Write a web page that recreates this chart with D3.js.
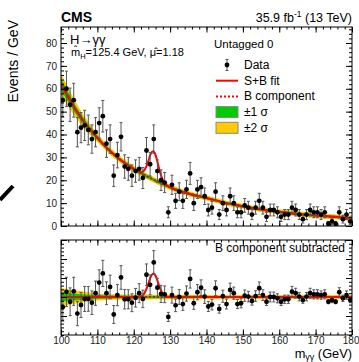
<!DOCTYPE html>
<html><head><meta charset="utf-8">
<script src="https://cdn.jsdelivr.net/npm/d3@7"></script>
<style>
body{margin:0;background:#fff}
svg{display:block}
text{font-family:"Liberation Sans",Arial,Helvetica,sans-serif}
</style>
</head><body>
<svg id="c" width="359" height="362"></svg>
<script>
// ---------------- data ----------------
const massBins = [100.5,101.5,102.5,103.5,104.5,105.5,106.5,107.5,108.5,109.5,
  110.5,111.5,112.5,113.5,114.5,115.5,116.5,117.5,118.5,119.5,
  120.5,121.5,122.5,123.5,124.5,125.5,126.5,127.5,128.5,129.5,
  130.5,131.5,132.5,133.5,134.5,135.5,136.5,137.5,138.5,139.5,
  140.5,141.5,142.5,143.5,144.5,145.5,146.5,147.5,148.5,149.5,
  150.5,151.5,152.5,153.5,154.5,155.5,156.5,157.5,158.5,159.5,
  160.5,161.5,162.5,163.5,164.5,165.5,166.5,167.5,168.5,169.5,
  170.5,171.5,172.5,173.5,174.5,175.5,176.5,177.5,178.5,179.5];

const dataCounts = [55,60,53,55,41,43,44,42,38,41,
  45,48,36,38,22,31,39,26,25,22,
  24,25,21,33,27,38,24,20,19,6,
  18,11,15,11,16,23,10,16,17,13,
  7,8,15,5,10,7,13,10,6,6,
  9,8,5,8,11,8,4,7,7,6,
  4,5,5,8,7,5,3,5,7,6,
  6,5,6,1,2,1,6,3,5,2];

const dataErrors = [7.4,7.7,7.3,7.4,6.4,6.6,6.6,6.5,6.2,6.4,
  6.7,6.9,6.0,6.2,4.7,5.6,6.2,5.1,5.0,4.7,
  4.9,5.0,4.6,5.7,5.2,6.2,4.9,4.5,4.4,2.4,
  4.2,3.3,3.9,3.3,4.0,4.8,3.2,4.0,4.1,3.6,
  2.6,2.8,3.9,2.2,3.2,2.6,3.6,3.2,2.4,2.4,
  3.0,2.8,2.2,2.8,3.3,2.8,2.0,2.6,2.6,2.4,
  2.0,2.2,2.2,2.8,2.6,2.2,1.7,2.2,2.6,2.4,
  2.4,2.2,2.4,1.0,1.4,1.0,2.4,1.7,2.2,1.4];

const subtracted = [-5.3,2.7,-2.5,3,-8.7,-4.2,-1,-1,-3,2,
  7.6,12.4,2,5.3,-9.2,1,10.3,-1.2,-1.2,-3,
  -0.4,2,-1,11.7,6.4,18.2,4.9,1.6,1.4,-10.5,
  1,-4.4,0,-3.7,1.8,9.5,-3.3,2.5,4.9,0.2,
  -5,-4,4.6,-6.3,0.4,-3.7,3.7,2,-3.7,-3.3,
  0.7,0.2,-2.1,0.5,4.6,1,-2.5,0,0,-0.7,
  -2.5,-1.2,-1.2,2.8,2,0.2,-1.6,0.2,2,1.4,
  1.4,1,1.4,-2.5,-1.6,-2.5,2.5,-0.7,1,-1.6];

// background fit (B component) sampled along the curve
const bkgMass  = [100,105,110,115,120,125,130,135,140,145,150,155,160,165,170,175,180];
const bkgValue = [62,48.5,38.5,30.6,25,20.6,16.9,14.2,12.2,10.2,8.6,7.2,6.2,5.3,4.6,4.0,3.4];

// uncertainty band half widths
const bandMass = [100,105,110,115,120,125,130,135,140,145,150,155,160,165,170,175,180];
const band1 = [2.5,1.6,1.0,0.8,0.7,0.65,0.6,0.6,0.55,0.55,0.55,0.55,0.55,0.55,0.55,0.55,0.6];
const band2 = [4.8,3.1,1.9,1.5,1.35,1.25,1.2,1.15,1.1,1.1,1.1,1.1,1.1,1.1,1.1,1.1,1.2];

// signal component (S+B minus B)
const sigMass  = [100,120,121,122,122.5,123,123.5,124,124.5,125,125.4,125.8,126.3,126.8,127.3,127.8,128.3,129,130,180];
const sigValue = [0,0,0.05,0.4,1.0,2.3,4.3,6.9,9.8,11.8,12.4,11.8,9.8,6.9,4.3,2.3,1.0,0.3,0,0];

const xTicks = [100,110,120,130,140,150,160,170,180];
const xTickLabels = ["100","110","120","130","140","150","160","170","180"];
const yTicksTop = [0,10,20,30,40,50,60,70,80];
const yTickLabelsTop = ["0","10","20","30","40","50","60","70","80"];
const yTicksBot = [-10,0,10,20,30];
const yTickLabelsBot = ["\u221210","0","10","20","30"];

// ---------------- layout ----------------
const W = 359, H = 362;
const L = 61, R = 352, T1 = 27, B1 = 226, T2 = 240, B2 = 335;
const RED = "#ff0000", GREEN = "#00cc00", YELLOW = "#ffcc00";
const FONT = "'Liberation Sans',Arial,Helvetica,sans-serif";

const svg = d3.select("#c");
svg.append("rect").attr("width", W).attr("height", H).attr("fill", "#fff");

const x  = d3.scaleLinear().domain([100, 180]).range([L, R]);
const y1 = d3.scaleLinear().domain([0, 87]).range([B1, T1]);
const y2 = d3.scaleLinear().domain([-20, 30]).range([B2, T2]);

const bkgAt = d3.scaleLinear().domain(bkgMass).range(bkgValue);
const sigAt = d3.scaleLinear().domain(sigMass).range(sigValue);

const defs = svg.append("defs");
defs.append("clipPath").attr("id", "cTop").append("rect")
  .attr("x", L).attr("y", T1).attr("width", R - L).attr("height", B1 - T1);
defs.append("clipPath").attr("id", "cBot").append("rect")
  .attr("x", L).attr("y", T2).attr("width", R - L).attr("height", B2 - T2);
defs.append("clipPath").attr("id", "cBotLab").append("rect")
  .attr("x", 0).attr("y", T2 - 1).attr("width", L).attr("height", H);

const bandPts = bandMass.map((m, i) => ({ m, b: bkgValue[i], s1: band1[i], s2: band2[i] }));
const bkgPts = bkgMass.map((m, i) => ({ m, v: bkgValue[i] }));
const sbMass = Array.from(new Set(bkgMass.concat(sigMass))).sort((a, b) => a - b);
const sbPts = sbMass.map(m => ({ m, v: bkgAt(m) + sigAt(m) }));
const sigPts = sigMass.map((m, i) => ({ m, v: sigValue[i] }));
const pts = massBins.map((m, i) => ({ m, v: dataCounts[i], e: dataErrors[i], r: subtracted[i] }));

// ---------------- top panel ----------------
const gTop = svg.append("g").attr("clip-path", "url(#cTop)");
const areaTop = k => d3.area().curve(d3.curveMonotoneX)
  .x(d => x(d.m)).y0(d => y1(d.b - d[k])).y1(d => y1(d.b + d[k]));
gTop.append("path").datum(bandPts).attr("d", areaTop("s2")).attr("fill", YELLOW);
gTop.append("path").datum(bandPts).attr("d", areaTop("s1")).attr("fill", GREEN);
const lineTop = d3.line().curve(d3.curveMonotoneX).x(d => x(d.m)).y(d => y1(d.v));
gTop.append("path").datum(bkgPts).attr("d", lineTop).attr("fill", "none")
  .attr("stroke", RED).attr("stroke-width", 2).attr("stroke-dasharray", "2,2");
gTop.append("path").datum(sbPts).attr("d", lineTop).attr("fill", "none")
  .attr("stroke", RED).attr("stroke-width", 2);

function drawPoints(g, ys, key) {
  const gp = g.append("g");
  gp.selectAll("line.eb").data(pts).join("line").attr("class", "eb")
    .attr("x1", d => x(d.m)).attr("x2", d => x(d.m))
    .attr("y1", d => ys(d[key] - d.e)).attr("y2", d => ys(d[key] + d.e))
    .attr("stroke", "#555").attr("stroke-width", 1);
  gp.selectAll("line.cl").data(pts).join("line").attr("class", "cl")
    .attr("x1", d => x(d.m) - 1.5).attr("x2", d => x(d.m) + 1.5)
    .attr("y1", d => ys(d[key] - d.e)).attr("y2", d => ys(d[key] - d.e))
    .attr("stroke", "#555").attr("stroke-width", 1);
  gp.selectAll("line.ch").data(pts).join("line").attr("class", "ch")
    .attr("x1", d => x(d.m) - 1.5).attr("x2", d => x(d.m) + 1.5)
    .attr("y1", d => ys(d[key] + d.e)).attr("y2", d => ys(d[key] + d.e))
    .attr("stroke", "#555").attr("stroke-width", 1);
  gp.selectAll("circle").data(pts).join("circle")
    .attr("cx", d => x(d.m)).attr("cy", d => ys(d[key])).attr("r", 2.4).attr("fill", "#000");
}
drawPoints(gTop, y1, "v");

// ---------------- bottom panel ----------------
const gBot = svg.append("g").attr("clip-path", "url(#cBot)");
const areaBot = k => d3.area().curve(d3.curveMonotoneX)
  .x(d => x(d.m)).y0(d => y2(-d[k])).y1(d => y2(d[k]));
gBot.append("path").datum(bandPts).attr("d", areaBot("s2")).attr("fill", YELLOW);
gBot.append("path").datum(bandPts).attr("d", areaBot("s1")).attr("fill", GREEN);
gBot.append("line").attr("x1", x(100)).attr("x2", x(180)).attr("y1", y2(0)).attr("y2", y2(0))
  .attr("stroke", RED).attr("stroke-width", 2).attr("stroke-dasharray", "2,2");
gBot.append("path").datum(sigPts)
  .attr("d", d3.line().curve(d3.curveMonotoneX).x(d => x(d.m)).y(d => y2(d.v)))
  .attr("fill", "none").attr("stroke", RED).attr("stroke-width", 2);
drawPoints(gBot, y2, "r");

// ---------------- axes ----------------
function styleAxis(g) {
  g.select(".domain").remove();
  g.selectAll("line").attr("stroke", "#000");
  g.selectAll("text").attr("font-family", FONT).attr("font-size", 10).attr("fill", "#222");
}
const range = (a, b, s) => { const r = []; for (let v = a; v <= b + 1e-9; v += s) r.push(+v.toFixed(3)); return r; };
const xMinor = range(100, 180, 2);
const yMinorTop = range(0, 86, 2);
const yMinorBot = range(-20, 30, 2);

function panelAxes(ys, top, bottom, yMajor, yLabels, yMinor, showX, labelClip) {
  svg.append("g").attr("transform", `translate(0,${bottom})`)
    .call(d3.axisBottom(x).tickValues(xMinor).tickSize(-2.5).tickFormat("")).call(styleAxis);
  const xb = svg.append("g").attr("transform", `translate(0,${bottom})`)
    .call(d3.axisBottom(x).tickValues(xTicks).tickSize(-5.5).tickPadding(1.5)
      .tickFormat((d, i) => showX ? xTickLabels[i] : "")).call(styleAxis);
  if (showX) {
    xb.selectAll(".tick").filter(d => d === 180).select("text").attr("text-anchor", "end").attr("dx", 7);
  }
  svg.append("g").attr("transform", `translate(0,${top})`)
    .call(d3.axisTop(x).tickValues(xMinor).tickSize(-2.5).tickFormat("")).call(styleAxis);
  svg.append("g").attr("transform", `translate(0,${top})`)
    .call(d3.axisTop(x).tickValues(xTicks).tickSize(-5.5).tickFormat("")).call(styleAxis);
  svg.append("g").attr("transform", `translate(${L},0)`)
    .call(d3.axisLeft(ys).tickValues(yMinor).tickSize(-3).tickFormat("")).call(styleAxis);
  const ya = svg.append("g").attr("transform", `translate(${L},0)`)
    .call(d3.axisLeft(ys).tickValues(yMajor).tickSize(-6).tickPadding(4)
      .tickFormat((d, i) => yLabels[i])).call(styleAxis);
  if (labelClip) ya.attr("clip-path", labelClip);
  svg.append("g").attr("transform", `translate(${R},0)`)
    .call(d3.axisRight(ys).tickValues(yMinor).tickSize(-3).tickFormat("")).call(styleAxis);
  svg.append("g").attr("transform", `translate(${R},0)`)
    .call(d3.axisRight(ys).tickValues(yMajor).tickSize(-6).tickFormat("")).call(styleAxis);
  svg.append("rect").attr("x", L).attr("y", top).attr("width", R - L).attr("height", bottom - top)
    .attr("fill", "none").attr("stroke", "#000").attr("stroke-width", 1);
}
panelAxes(y1, T1, B1, yTicksTop, yTickLabelsTop, yMinorTop, false, null);
panelAxes(y2, T2, B2, yTicksBot, yTickLabelsBot, yMinorBot, true, "url(#cBotLab)");

// ---------------- texts ----------------
const txt = (xx, yy, s, size, opts = {}) => {
  const t = svg.append("text").attr("x", xx).attr("y", yy).attr("font-family", FONT)
    .attr("font-size", size).attr("fill", opts.fill || "#000");
  if (opts.anchor) t.attr("text-anchor", opts.anchor);
  if (opts.weight) t.attr("font-weight", opts.weight);
  if (s !== null) t.text(s);
  return t;
};

txt(61, 22, "CMS", 14, { weight: "bold" });
const lumi = txt(352, 22, null, 12.5, { anchor: "end" });
lumi.append("tspan").text("35.9 fb");
lumi.append("tspan").attr("font-size", 8.5).attr("dy", -5).text("-1");
lumi.append("tspan").attr("dy", 5).text(" (13 TeV)");

svg.append("text").attr("transform", "translate(18,20) rotate(-90)")
  .attr("text-anchor", "end").attr("font-family", FONT).attr("font-size", 14).attr("fill", "#000")
  .text("Events / GeV");

const xt = txt(352, 357.5, null, 12.8, { anchor: "end" });
xt.append("tspan").text("m");
xt.append("tspan").attr("font-size", 9).attr("dy", 2).text("\u03b3\u03b3");
xt.append("tspan").attr("dy", -2).text(" (GeV)");

txt(70, 44, "H\u2192\u03b3\u03b3", 13);
const fitLab = txt(71, 56, null, 11);
fitLab.append("tspan").text("m\u0302");
fitLab.append("tspan").attr("font-size", 7.5).attr("dy", 2.5).text("H");
fitLab.append("tspan").attr("dy", -2.5).text("=125.4 GeV, \u03bc\u0302=1.18");

txt(214, 48, "Untagged 0", 11.5);
const lx0 = 216, lx1 = 238, ltx = 244;
const rows = [65, 80.7, 96.4, 112.1, 127.8];
svg.append("line").attr("x1", 227).attr("x2", 227).attr("y1", rows[0] - 5.5).attr("y2", rows[0] + 5.5)
  .attr("stroke", "#555");
svg.append("line").attr("x1", 225.5).attr("x2", 228.5).attr("y1", rows[0] - 5.5).attr("y2", rows[0] - 5.5).attr("stroke", "#555");
svg.append("line").attr("x1", 225.5).attr("x2", 228.5).attr("y1", rows[0] + 5.5).attr("y2", rows[0] + 5.5).attr("stroke", "#555");
svg.append("circle").attr("cx", 227).attr("cy", rows[0]).attr("r", 2.4).attr("fill", "#000");
txt(ltx, rows[0] + 4, "Data", 12);
svg.append("line").attr("x1", lx0).attr("x2", lx1).attr("y1", rows[1]).attr("y2", rows[1])
  .attr("stroke", RED).attr("stroke-width", 2);
txt(ltx, rows[1] + 4, "S+B fit", 12);
svg.append("line").attr("x1", lx0).attr("x2", lx1).attr("y1", rows[2]).attr("y2", rows[2])
  .attr("stroke", RED).attr("stroke-width", 2).attr("stroke-dasharray", "2,2");
txt(ltx, rows[2] + 4, "B component", 12);
svg.append("rect").attr("x", lx0).attr("y", rows[3] - 5.5).attr("width", lx1 - lx0).attr("height", 11)
  .attr("fill", GREEN).attr("stroke", "#888");
txt(ltx, rows[3] + 4, "\u00b11 \u03c3", 12);
svg.append("rect").attr("x", lx0).attr("y", rows[4] - 5.5).attr("width", lx1 - lx0).attr("height", 11)
  .attr("fill", YELLOW).attr("stroke", "#888");
txt(ltx, rows[4] + 4, "\u00b12 \u03c3", 12);

txt(345, 252, "B component subtracted", 12, { anchor: "end" });

svg.append("line").attr("x1", 0).attr("y1", 200).attr("x2", 13).attr("y2", 186)
  .attr("stroke", "#000").attr("stroke-width", 4);
</script>
</body></html>
